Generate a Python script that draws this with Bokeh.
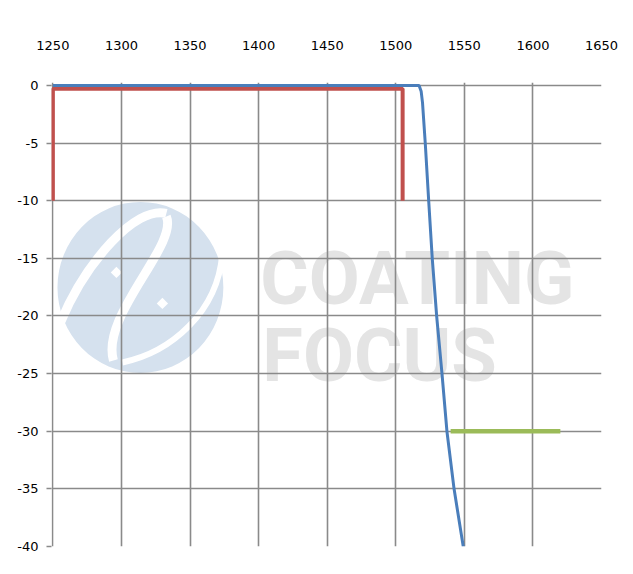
from bokeh.plotting import figure
from bokeh.models import Range1d, FixedTicker, LinearAxis
from bokeh.core.properties import value
from bokeh.embed import file_html
from bokeh.resources import INLINE

# ---- data ----
x_ticks = [1250, 1300, 1350, 1400, 1450, 1500, 1550, 1600, 1650]
y_ticks = [0, -5, -10, -15, -20, -25, -30, -35, -40]
y_labels = ["0", "-5", "-10", "-15", "-20", "-25", "-30", "-35", "-40"]

blue_wl = [1250, 1517, 1518.5, 1519.5, 1521.5, 1524, 1526.6, 1529.8, 1533.7, 1537.3, 1542.5, 1549.2]
blue_db = [0, 0, -0.5, -1.5, -5, -10, -15, -20, -25, -30, -35, -40]

red_wl = [1250, 1250, 1505, 1505]
red_db = [-10, -0.3, -0.3, -10]

green_wl = [1540, 1620]
green_db = [-30, -30]

FONT = "DejaVu Sans"

p = figure(width=618, height=561, output_backend="svg", toolbar_location=None,
           x_range=Range1d(1249, 1650), y_range=Range1d(-40, 0.25),
           x_axis_location=None, y_axis_location=None,
           min_border_left=51, min_border_right=17, min_border_top=82, min_border_bottom=15)
p.outline_line_color = None
p.background_fill_color = "white"
p.border_fill_color = "white"

# axes
xa = LinearAxis(ticker=FixedTicker(ticks=x_ticks))
xa.axis_line_color = None
xa.major_tick_line_color = None
xa.minor_tick_line_color = None
xa.major_label_standoff = 27
xa.major_label_text_font = FONT
xa.major_label_text_font_size = "13px"
xa.major_label_text_color = "black"
p.add_layout(xa, "above")

ya = LinearAxis(ticker=FixedTicker(ticks=y_ticks))
ya.major_label_overrides = {t: s for t, s in zip(y_ticks, y_labels)}
ya.axis_line_color = None
ya.major_tick_line_color = "#8a8a8a"
ya.major_tick_line_width = 1.5
ya.major_tick_out = 5
ya.major_tick_in = 0
ya.minor_tick_line_color = None
ya.major_label_standoff = 8
ya.major_label_text_font = FONT
ya.major_label_text_font_size = "13px"
ya.major_label_text_color = "black"
p.add_layout(ya, "left")

p.xgrid.ticker = FixedTicker(ticks=x_ticks)
p.ygrid.ticker = FixedTicker(ticks=y_ticks)
p.xgrid.axis = xa
p.ygrid.axis = ya
for g in (p.xgrid, p.ygrid):
    g.grid_line_color = "#8a8a8a"
    g.grid_line_width = 1.6

# ---- watermark (decoration, placed in pixel space) ----
def px(v):
    return 1250 + (v - 52.4) / 1.3725

def py(v):
    return -(v - 85) / 11.525

wm = []
wm.append(p.ellipse(x=[px(140)], y=[py(287)], width=166 / 1.3725, height=171 / 11.525,
                    fill_color="#d5e1ee", line_color=None))
curves = [
    ((60, 322), (85, 262), (135, 205), (166, 213), 9),
    ((166, 216), (178, 245), (100, 315), (113, 360), 9),
    ((222, 252), (218, 312), (170, 352), (122, 362), 6),
]
for (a, c0, c1, b, w) in curves:
    wm.append(p.bezier(x0=[px(a[0])], y0=[py(a[1])], x1=[px(b[0])], y1=[py(b[1])],
                       cx0=[px(c0[0])], cy0=[py(c0[1])], cx1=[px(c1[0])], cy1=[py(c1[1])],
                       line_color="white", line_width=w))
wm.append(p.scatter(x=[px(116), px(162)], y=[py(272), py(303)], marker="square", size=8,
                    angle=0.785, fill_color="white", line_color=None))
wm.append(p.text(x=[px(260)], y=[py(277.7)], text=["COATING"], text_font=value("Roboto"),
                 text_font_style="bold", text_font_size="74px", text_color="#e4e4e4",
                 text_baseline="alphabetic", text_align="left"))
wm.append(p.text(x=[px(262)], y=[py(355)], text=["FOCUS"], text_font=value("Roboto"),
                 text_font_style="bold", text_font_size="74px", text_color="#e4e4e4",
                 text_baseline="alphabetic", text_align="left"))
for r in wm:
    r.level = "image"

# ---- series ----
p.line(red_wl, red_db, line_color="#c0504d", line_width=4)
p.line(green_wl, green_db, line_color="#9bbb59", line_width=4.5)
p.line(blue_wl, blue_db, line_color="#4a7ebb", line_width=3)

open("out.html", "w").write(file_html(p, INLINE))
